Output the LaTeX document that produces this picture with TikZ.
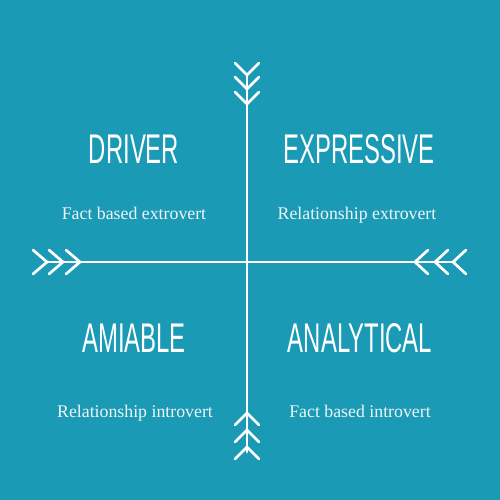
\documentclass[tikz,border=0pt]{standalone}
\usepackage{fontspec}
\setmainfont{Liberation Serif}
\newfontfamily\titlefont[FakeStretch=0.575]{Liberation Sans}
\definecolor{bgteal}{HTML}{1A9AB5}
\definecolor{subwhite}{HTML}{EEF6F8}
\begin{document}
\begin{tikzpicture}[x=1pt,y=-1pt,
  axis/.style={draw=white,line width=2.7pt,line cap=round,line join=round},
  title/.style={text=white,anchor=base,inner sep=0pt,font=\titlefont\fontsize{41.5}{41.5}\selectfont},
  sub/.style={text=subwhite,anchor=base,inner sep=0pt,font=\fontsize{17.8}{17.8}\selectfont}]
\fill[bgteal] (0,0) rectangle (500,500);
\useasboundingbox (0,0) rectangle (500,500);
% axes
\coordinate (top) at (247,75);
\coordinate (bottom) at (247,452);
\coordinate (left) at (47,262);
\coordinate (right) at (453,262);
\draw[axis] (top) -- (bottom);
\draw[axis] (left) -- (right);
% chevrons
\foreach \v in {75,89,104} \draw[axis] (235,\v-12) -- (247,\v) -- (259,\v-12);
\foreach \v in {413,430,447} \draw[axis] (235,\v+12) -- (247,\v) -- (259,\v+12);
\foreach \u in {47,63,80} \draw[axis] (\u-14,250) -- (\u,262) -- (\u-14,274);
\foreach \u in {415,435,453} \draw[axis] (\u+13,250) -- (\u,262) -- (\u+13,274);
% texts
\node[title] (driver) at (134,163) {DRIVER};
\node[title] (expressive) at (359,163) {EXPRESSIVE};
\node[title] (amiable) at (134,352) {AMIABLE};
\node[title] (analytical) at (360,352) {ANALYTICAL};
\node[sub] (s1) at (134,219) {Fact based extrovert};
\node[sub] (s2) at (357,219) {Relationship extrovert};
\node[sub] (s3) at (135,417) {Relationship introvert};
\node[sub] (s4) at (360,417) {Fact based introvert};
\end{tikzpicture}
\end{document}
